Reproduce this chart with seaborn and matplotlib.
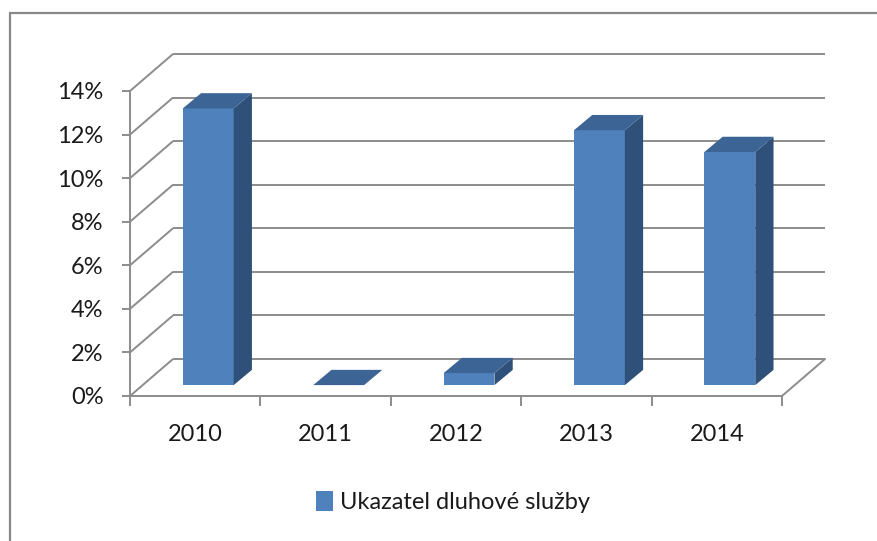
import matplotlib
matplotlib.use("Agg")
import matplotlib.pyplot as plt
from matplotlib.patches import Polygon, Patch
from matplotlib.lines import Line2D
import numpy as np
import pandas as pd
import seaborn as sns

# data
years = ["2010", "2011", "2012", "2013", "2014"]
values = [12.7, 0.0, 0.55, 11.7, 10.7]
y_ticks = [0, 2, 4, 6, 8, 10, 12, 14]
y_labels = [f"{t}%" for t in y_ticks]
series = "Ukazatel dluhové služby"

sns.set_theme(style="ticks")
plt.rcParams["font.family"] = ["Lato", "DejaVu Sans"]

front_c = "#4F81BD"
top_c = "#3C6494"
side_c = "#2F5079"
grid_c = "#8C8C8C"
text_c = "#1A1A1A"

fig = plt.figure(figsize=(8.77, 5.41), dpi=100)
ax = fig.add_axes([130 / 877, 145 / 541, 652 / 877, 305 / 541])

# fake 3d: oblique depth of the box and of the bars, in data units
DX, DY = 0.33, 1.70
bx0, by0 = 0.10, 0.50
bdx, bdy = 0.14, 0.70

df = pd.DataFrame({"year": years, "value": values})
sns.barplot(data=df, x="year", y="value", color=front_c, saturation=1,
            width=0.39, ax=ax, zorder=3, linewidth=0)

for p in ax.patches:
    x0 = p.get_x() + bx0
    w, h = p.get_width(), p.get_height()
    p.set_x(x0)
    p.set_y(by0)
    top = [(x0, by0 + h), (x0 + w, by0 + h),
           (x0 + w + bdx, by0 + h + bdy), (x0 + bdx, by0 + h + bdy)]
    side = [(x0 + w, by0), (x0 + w + bdx, by0 + bdy),
            (x0 + w + bdx, by0 + h + bdy), (x0 + w, by0 + h)]
    ax.add_patch(Polygon(side, closed=True, facecolor=side_c, edgecolor="none", zorder=3))
    ax.add_patch(Polygon(top, closed=True, facecolor=top_c, edgecolor="none", zorder=3))

# back wall, left wall slants, floor
for t in y_ticks:
    ax.plot([-0.5, -0.5 + DX], [t, t + DY], color=grid_c, lw=1.4,
            clip_on=False, zorder=1, solid_capstyle="butt")
    ax.plot([-0.5 + DX, 4.5 + DX], [t + DY, t + DY], color=grid_c, lw=1.4,
            clip_on=False, zorder=1, solid_capstyle="butt")
ax.plot([4.5, 4.5 + DX], [0, DY], color=grid_c, lw=1.4, clip_on=False, zorder=1)

ax.set_xlim(-0.5, 4.5)
ax.set_ylim(0, 14)
ax.set_xlabel("")
ax.set_ylabel("")

ax.set_yticks(y_ticks, y_labels)
ax.set_xticks(np.arange(-0.5, len(years)), [""] * (len(years) + 1))
ax.set_xticks(range(len(years)), years, minor=True)
ax.tick_params(axis="y", length=6, width=1.4, color=grid_c, pad=13,
               labelsize=17, labelcolor=text_c)
ax.tick_params(axis="x", which="major", length=7, width=1.4, color=grid_c)
ax.tick_params(axis="x", which="minor", length=0, pad=20,
               labelsize=17, labelcolor=text_c)

for s in ["top", "right"]:
    ax.spines[s].set_visible(False)
for s in ["left", "bottom"]:
    ax.spines[s].set_color(grid_c)
    ax.spines[s].set_linewidth(1.4)
    ax.spines[s].set_zorder(2)

fig.legend(handles=[Patch(facecolor=front_c, edgecolor="none")], labels=[series],
           loc="center", bbox_to_anchor=(453 / 877, 1 - 502 / 541),
           frameon=False, fontsize=17, handlelength=0.75, handleheight=0.9,
           handletextpad=0.3, labelcolor=text_c)

# chart frame (only left and top edges are visible)
fig.add_artist(Line2D([10 / 877, 10 / 877], [0, 1 - 13 / 541], transform=fig.transFigure,
                      color="#888888", lw=1.6))
fig.add_artist(Line2D([10 / 877, 1], [1 - 13 / 541, 1 - 13 / 541], transform=fig.transFigure,
                      color="#888888", lw=1.6))

fig.savefig("out.png", dpi=100)
